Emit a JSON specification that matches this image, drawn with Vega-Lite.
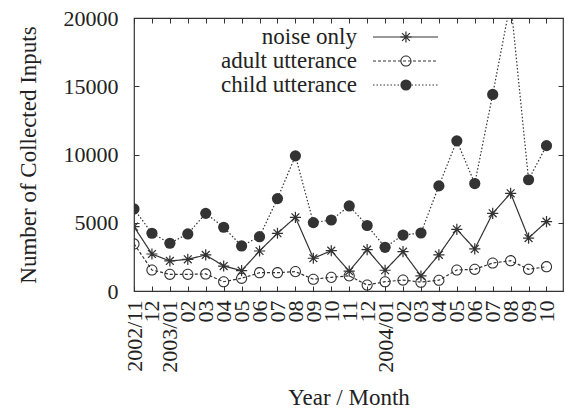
{
  "$schema": "https://vega.github.io/schema/vega-lite/v6.json",
  "width": 429,
  "height": 273,
  "autosize": {"type": "none"},
  "padding": {"left": 134, "top": 18, "right": 3, "bottom": 122},
  "background": "white",
  "config": {
    "font": "Liberation Serif",
    "view": {"stroke": "#333", "strokeWidth": 1.2},
    "axis": {
      "domain": false, "grid": false,
      "labelFont": "Liberation Serif", "titleFont": "Liberation Serif",
      "labelFontSize": 22, "titleFontSize": 23, "titleFontWeight": "normal",
      "labelColor": "#222", "titleColor": "#222", "tickColor": "#333", "tickSize": -5, "tickWidth": 1
    }
  },
  "data": {
    "values": [
      {"m": 0, "month": "2002/11", "noise only": 4710, "adult utterance": 3450, "child utterance": 6010},
      {"m": 1, "month": "2002/12", "noise only": 2710, "adult utterance": 1540, "child utterance": 4230},
      {"m": 2, "month": "2003/01", "noise only": 2200, "adult utterance": 1220, "child utterance": 3500},
      {"m": 3, "month": "2003/02", "noise only": 2320, "adult utterance": 1220, "child utterance": 4180},
      {"m": 4, "month": "2003/03", "noise only": 2640, "adult utterance": 1250, "child utterance": 5690},
      {"m": 5, "month": "2003/04", "noise only": 1830, "adult utterance": 680, "child utterance": 4670},
      {"m": 6, "month": "2003/05", "noise only": 1490, "adult utterance": 930, "child utterance": 3300},
      {"m": 7, "month": "2003/06", "noise only": 2930, "adult utterance": 1340, "child utterance": 3980},
      {"m": 8, "month": "2003/07", "noise only": 4230, "adult utterance": 1340, "child utterance": 6770},
      {"m": 9, "month": "2003/08", "noise only": 5400, "adult utterance": 1420, "child utterance": 9900},
      {"m": 10, "month": "2003/09", "noise only": 2400, "adult utterance": 860, "child utterance": 5010},
      {"m": 11, "month": "2003/10", "noise only": 2950, "adult utterance": 1000, "child utterance": 5200},
      {"m": 12, "month": "2003/11", "noise only": 1450, "adult utterance": 1110, "child utterance": 6230},
      {"m": 13, "month": "2003/12", "noise only": 3030, "adult utterance": 440, "child utterance": 4800},
      {"m": 14, "month": "2004/01", "noise only": 1520, "adult utterance": 680, "child utterance": 3200},
      {"m": 15, "month": "2004/02", "noise only": 2880, "adult utterance": 800, "child utterance": 4100},
      {"m": 16, "month": "2004/03", "noise only": 1100, "adult utterance": 650, "child utterance": 4250},
      {"m": 17, "month": "2004/04", "noise only": 2650, "adult utterance": 790, "child utterance": 7700},
      {"m": 18, "month": "2004/05", "noise only": 4520, "adult utterance": 1540, "child utterance": 11000},
      {"m": 19, "month": "2004/06", "noise only": 3080, "adult utterance": 1590, "child utterance": 7870},
      {"m": 20, "month": "2004/07", "noise only": 5690, "adult utterance": 2050, "child utterance": 14400},
      {"m": 21, "month": "2004/08", "noise only": 7160, "adult utterance": 2220, "child utterance": 21200},
      {"m": 22, "month": "2004/09", "noise only": 3880, "adult utterance": 1590, "child utterance": 8150},
      {"m": 23, "month": "2004/10", "noise only": 5080, "adult utterance": 1780, "child utterance": 10650}
    ]
  },
  "transform": [
    {"fold": ["noise only", "adult utterance", "child utterance"], "as": ["series", "value"]}
  ],
  "resolve": {"axis": {"x": "independent", "y": "independent"}},
  "layer": [
    {
      "mark": {"type": "line", "clip": true, "stroke": "#333", "strokeWidth": 1.2},
      "encoding": {
        "x": {
          "field": "m", "type": "quantitative",
          "scale": {"domain": [0, 23.92], "nice": false, "zero": false},
          "axis": {
            "orient": "bottom",
            "values": [0,1,2,3,4,5,6,7,8,9,10,11,12,13,14,15,16,17,18,19,20,21,22,23],
            "labelExpr": "['2002/11','12','2003/01','02','03','04','05','06','07','08','09','10','11','12','2004/01','02','03','04','05','06','07','08','09','10'][datum.value]",
            "labelAngle": -90, "labelPadding": 14, "labelOverlap": false,
            "title": "Year / Month", "titlePadding": 14
          }
        },
        "y": {
          "field": "value", "type": "quantitative",
          "scale": {"domain": [0, 20000], "nice": false},
          "axis": {
            "orient": "left",
            "values": [0, 5000, 10000, 15000, 20000], "format": "d",
            "labelPadding": 21, "title": "Number of Collected Inputs", "titlePadding": 23
          }
        },
        "strokeDash": {
          "field": "series", "type": "nominal",
          "sort": ["noise only", "adult utterance", "child utterance"],
          "scale": {"range": [[1, 0], [3, 2], [1.5, 2]]},
          "legend": {
            "orient": "none", "legendX": 260, "legendY": 7.5, "title": null, "padding": 0,
            "symbolType": "M-6.5,0H6.5", "symbolSize": 100, "symbolStrokeColor": "#333", "symbolStrokeWidth": 1.2,
            "labelFont": "Liberation Serif", "labelFontSize": 23, "labelColor": "#222",
            "labelAlign": "right", "labelOffset": -60, "rowPadding": -1.5, "labelLimit": 300
          }
        }
      }
    },
    {
      "mark": {"type": "point", "clip": true, "filled": true, "fill": "#333", "size": 125, "opacity": 1},
      "encoding": {
        "x": {"field": "m", "type": "quantitative", "axis": null},
        "y": {"field": "value", "type": "quantitative", "axis": null},
        "shape": {
          "field": "series", "type": "nominal",
          "scale": {
            "domain": ["noise only", "adult utterance", "child utterance"],
            "range": [
              "M-1,-0.11H1V0.11H-1ZM-0.11,-1H0.11V1H-0.11ZM-0.62,-0.78L0.78,0.62L0.62,0.78L-0.78,-0.62ZM-0.62,0.78L-0.78,0.62L0.62,-0.78L0.78,-0.62Z",
              "M1,0A1,1 0 1,1 -1,0A1,1 0 1,1 1,0ZM0.81,0A0.81,0.81 0 1,0 -0.81,0A0.81,0.81 0 1,0 0.81,0Z",
              "circle"
            ]
          },
          "legend": {
            "orient": "none", "legendX": 260.45, "legendY": 7.5, "title": null, "padding": 0,
            "symbolSize": 125, "symbolFillColor": "#333", "symbolStrokeWidth": 0,
            "labelFontSize": 23, "labelOpacity": 0, "rowPadding": -1.5,
            "encode": {"symbols": {"fill": {"value": "#333"}, "fillOpacity": {"value": 1}, "opacity": {"value": 1}}}
          }
        }
      }
    },
    {
      "mark": {"type": "point", "opacity": 0, "size": 0},
      "encoding": {
        "x": {
          "field": "m", "type": "quantitative",
          "axis": {"orient": "top", "values": [0,1,2,3,4,5,6,7,8,9,10,11,12,13,14,15,16,17,18,19,20,21,22,23], "labels": false, "title": null}
        },
        "y": {
          "field": "value", "type": "quantitative",
          "axis": {"orient": "right", "values": [0, 5000, 10000, 15000, 20000], "labels": false, "title": null}
        }
      }
    }
  ]
}
